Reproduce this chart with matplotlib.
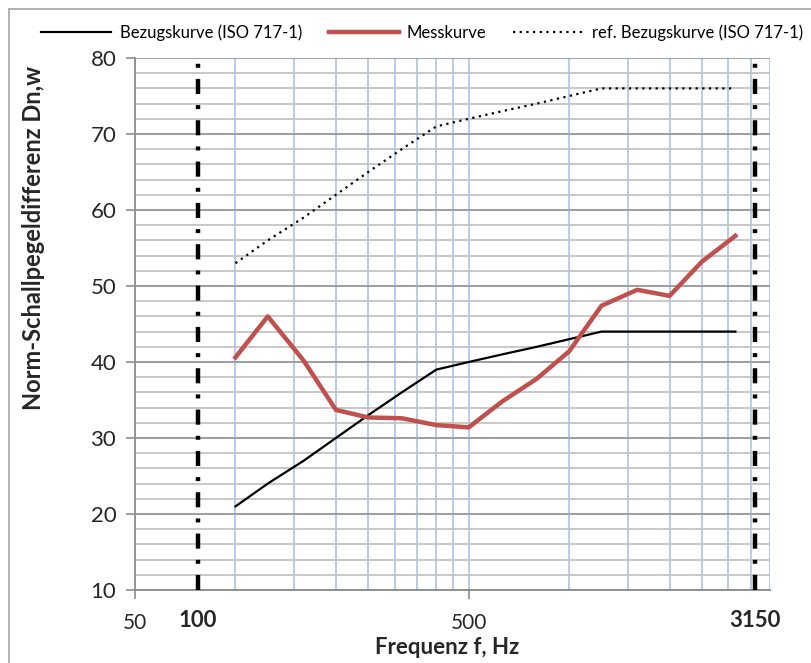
"""
Norm-Schallpegeldifferenz Dn,w über Frequenz (Terzbänder)
"""

import matplotlib.pyplot as plt
from matplotlib.lines import Line2D

# Terzmittenfrequenzen in Hz
freqs = [100, 125, 160, 200, 250, 315, 400, 500, 630, 800,
         1000, 1250, 1600, 2000, 2500, 3150]

# verschobene Bezugskurve nach ISO 717-1
bezug = [21, 24, 27, 30, 33, 36, 39, 40, 41, 42, 43, 44, 44, 44, 44, 44]

# Messwerte
mess = [40.6, 46.0, 40.2, 33.7, 32.7, 32.6, 31.7, 31.4, 34.8, 37.8,
        41.4, 47.4, 49.5, 48.7, 53.2, 56.6]

# Referenz-Bezugskurve (unverschoben)
ref_bezug = [53, 56, 59, 62, 65, 68, 71, 72, 73, 74, 75, 76, 76, 76, 76, 76]

y_ticks = [10, 20, 30, 40, 50, 60, 70, 80]
x_labels = ['50', '500']
grenz_labels = ['100', '3150']

plt.rcParams['font.family'] = ['Lato', 'DejaVu Sans']

fig = plt.figure(figsize=(8.11, 6.63), dpi=100)
ax = fig.add_axes([135 / 811, 1 - 590 / 663, 635 / 811, 532 / 663])

# Gitter
ax.set_xscale('log')
ax.set_xlim(50, 4000)
ax.set_ylim(10, 80)
ax.set_xticks([50, 500])
ax.set_xticklabels(x_labels)
minor_x = [100, 150, 200, 250, 300, 350, 400, 450,
           1000, 1500, 2000, 2500, 3000, 3500, 4000]
ax.set_xticks(minor_x, minor=True)
ax.set_xticklabels([''] * len(minor_x), minor=True)
ax.set_yticks(y_ticks)
ax.set_yticks(range(10, 81, 2), minor=True)

ax.grid(which='both', axis='x', color='#b4c7e7', linewidth=1.3, zorder=0)
ax.grid(which='minor', axis='y', color='#c4c4c4', linewidth=1.3, zorder=0)
ax.grid(which='major', axis='y', color='#9e9e9e', linewidth=1.4, zorder=0)
ax.set_axisbelow(True)

for s in ['top', 'right']:
    ax.spines[s].set_visible(False)
for s in ['left', 'bottom']:
    ax.spines[s].set_color('#8c8c8c')
    ax.spines[s].set_linewidth(1.3)

ax.tick_params(axis='both', which='major', length=6.5, width=1.2, color='#8c8c8c',
               labelsize=16, labelcolor='#262626')
ax.tick_params(axis='x', which='major', pad=10, labelsize=15)
ax.tick_params(axis='y', which='major', pad=7)
ax.tick_params(which='minor', length=0)

# Kurven
ax.plot(freqs, bezug, color='black', linewidth=1.6, zorder=3)
ax.plot(freqs, mess, color='#c0504d', linewidth=3.2, zorder=4)
ax.plot(freqs, ref_bezug, color='black', linewidth=1.6, linestyle=(0, (1, 2)), zorder=3)

# Grenzen des Frequenzbereichs
for xg, lab in zip([77, 3600], grenz_labels):
    ax.axvline(xg, color='black', linewidth=3.2, linestyle=(0, (3.4, 2.5, 0.9, 2.5)),
               dash_capstyle='butt', zorder=5)
    ax.text(xg, -0.058, lab, transform=ax.get_xaxis_transform(), ha='center', va='center',
            fontsize=16, fontweight='bold', color='#262626')

# Achsenbeschriftungen
fig.text(447 / 811, 1 - 647 / 663, 'Frequenz f, Hz', ha='center', va='center',
         fontsize=16, fontweight='bold', color='#262626')
fig.text(34 / 811, 1 - 238 / 663, 'Norm-Schallpegeldifferenz Dn,w', ha='center', va='center',
         rotation=90, fontsize=17, fontweight='bold', color='#262626')

# Legende
handles = [Line2D([], [], color='black', linewidth=1.6),
           Line2D([], [], color='#c0504d', linewidth=3.2),
           Line2D([], [], color='black', linewidth=1.6, linestyle=(0, (1, 2)))]
names = ['Bezugskurve (ISO 717-1)', 'Messkurve', 'ref. Bezugskurve (ISO 717-1)']
fig.legend(handles, names, loc='center', bbox_to_anchor=(422 / 811, 1 - 33 / 663), ncol=3,
           frameon=False, fontsize=12, handlelength=4.2, columnspacing=1.6, handletextpad=0.5)

# Rahmen des Diagramms
fig.add_artist(Line2D([9 / 811, 9 / 811], [0, 1 - 9 / 663], transform=fig.transFigure,
                      color='#a6a6a6', linewidth=1.2))
fig.add_artist(Line2D([9 / 811, 1], [1 - 9 / 663, 1 - 9 / 663], transform=fig.transFigure,
                      color='#a6a6a6', linewidth=1.2))

fig.savefig('out.png', dpi=100)
